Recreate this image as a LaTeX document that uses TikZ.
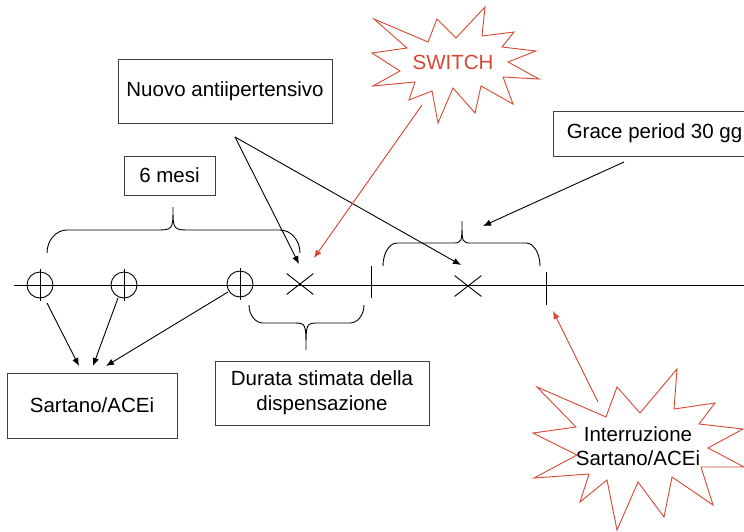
\documentclass[tikz,border=0pt]{standalone}
\usepackage{fontspec}
\setmainfont{Liberation Sans}
\usetikzlibrary{arrows.meta,shapes.misc}
\definecolor{burstred}{RGB}{214,72,52}
% x1 x2 xm yb yl yt r r2
\newcommand\mybrace[8]{%
  \draw[brc] (#1,#4) .. controls (#1,{#5+0.45*(#4-#5)}) and ({#1+0.45*#7},#5) .. ({#1+#7},#5) -- ({#3-#8},#5)
    .. controls (#3,#5) .. (#3,#6) .. controls (#3,#5) .. ({#3+#8},#5)
    -- ({#2-#7},#5) .. controls ({#2-0.45*#7},#5) and (#2,{#5+0.45*(#4-#5)}) .. (#2,#4);}
\begin{document}
\begin{tikzpicture}[x=1pt,y=-1pt,
  box/.style={draw=black!75, line width=0.9pt, inner sep=0pt, align=center,
    font=\fontsize{20.5}{25}\selectfont},
  lbl/.style={inner sep=0pt, align=center, font=\fontsize{20.5}{24.5}\selectfont},
  arr/.style={-{Latex[length=8pt,width=6.5pt]}, line width=0.9pt},
  redarr/.style={arr, draw=burstred, fill=burstred},
  brc/.style={line width=0.9pt},
  burst/.style={draw=burstred, line width=0.9pt, line join=miter},
  ring/.style={circle, draw, line width=0.9pt, minimum size=26pt, inner sep=0pt},
  xmark/.style={cross out, draw, line width=0.9pt, minimum width=26pt, minimum height=20pt, inner sep=0pt}]
\clip (0,0) rectangle (744,531);
\fill[white] (0,0) rectangle (744,531);

% timeline
\coordinate (tl0) at (14,285);
\coordinate (tl1) at (750,285);
\draw[line width=0.9pt] (tl0) -- (tl1);

% circles with ticks
\node[ring] (c1) at (40,285) {};
\node[ring] (c2) at (124,285) {};
\node[ring] (c3) at (240,284) {};
\foreach \c in {c1,c2,c3}
  \draw[line width=0.9pt] ([yshift=16pt]\c.center) -- ([yshift=-16pt]\c.center);

% crosses
\node[xmark] (x1) at (300,284) {};
\node[xmark] (x2) at (468,286) {};

% bars
\coordinate (b1t) at (371,266); \coordinate (b1b) at (371,298);
\coordinate (b2t) at (546,272); \coordinate (b2b) at (546,305);
\draw[line width=0.9pt] (b1t) -- (b1b);
\draw[line width=0.9pt] (b2t) -- (b2b);

% braces
\mybrace{47}{300}{173}{253}{230}{207}{20}{18}
\mybrace{383}{540}{462}{266}{243}{221}{14}{10}
\mybrace{249}{364}{306}{305}{323}{350}{14}{13}

% boxes
\node[box, minimum width=214pt, minimum height=64pt] (nuovo) at (225,91) {Nuovo antiipertensivo};
\node[box, minimum width=91pt, minimum height=39pt] (mesi) at (169.5,175.5) {6 mesi};
\node[box, minimum width=203pt, minimum height=45pt] (grace) at (654.5,133.5) {Grace period 30 gg};
\node[box, minimum width=170pt, minimum height=65pt] (sart) at (92,405.5) {Sartano/ACEi};
\node[box, minimum width=214pt, minimum height=64pt] (durata) at (322,393) {Durata stimata della\\dispensazione};

% SWITCH burst
\draw[burst] (374,19) -- (428,42) -- (437,19) -- (456,38) -- (485,7) -- (482,36)
  -- (514,32) -- (502,47) -- (536,51) -- (508,62) -- (539,79) -- (503,77)
  -- (513,104) -- (481,86) -- (475,113) -- (453,88) -- (438,123) -- (432,91)
  -- (409,100) -- (415,82) -- (373,86) -- (400,71) -- (372,53) -- (407,48) -- cycle;
\node[lbl, text=burstred] (switch) at (453,62) {SWITCH};

% Interruzione burst
\draw[burst] (537,387) -- (606,417) -- (617,387) -- (640,413) -- (677,369) -- (674,409)
  -- (715,403) -- (699,424) -- (743,429) -- (708,448) -- (744,467) -- (701,467)
  -- (713,505) -- (672,477) -- (664,517) -- (638,482) -- (617,530) -- (607,480)
  -- (580,502) -- (589,474) -- (534,478) -- (577,455) -- (533,433) -- (576,427) -- cycle;
\node[lbl] (interr) at (638,446) {Interruzione\\Sartano/ACEi};

% arrows from Nuovo antiipertensivo
\coordinate (nv) at (235,137);
\coordinate (x1t) at (299,264);
\coordinate (x2t) at (461,265);
\draw[arr] (nv) -- (x1t);
\draw[arr] (nv) -- (x2t);

% SWITCH arrow
\coordinate (sw) at (422,105);
\coordinate (swend) at (314,258);
\draw[redarr] (sw) -- (swend);

% grace arrow
\coordinate (gr) at (624,162);
\coordinate (grend) at (483,226);
\draw[arr] (gr) -- (grend);

% interruption arrow
\coordinate (ir) at (598,402);
\coordinate (irend) at (553,311);
\draw[redarr] (ir) -- (irend);

% arrows to Sartano/ACEi
\coordinate (s1) at (47,303);  \coordinate (e1) at (79,366);
\coordinate (s2) at (118,298); \coordinate (e2) at (93,366);
\coordinate (s3) at (228,292); \coordinate (e3) at (106,366);
\draw[arr] (s1) -- (e1);
\draw[arr] (s2) -- (e2);
\draw[arr] (s3) -- (e3);
\end{tikzpicture}
\end{document}
